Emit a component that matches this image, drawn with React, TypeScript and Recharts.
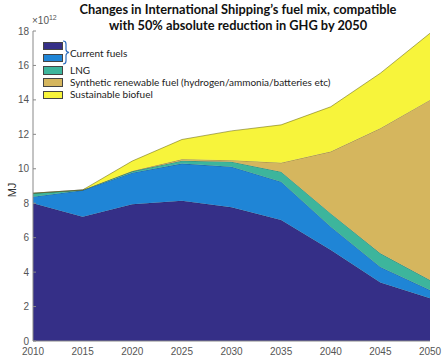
import React from "react";
import { AreaChart, Area, XAxis, YAxis } from "recharts";

const years = [2010, 2015, 2020, 2025, 2030, 2035, 2040, 2045, 2050];
const currentFuelsA = [8.0, 7.22, 7.94, 8.15, 7.76, 7.03, 5.28, 3.4, 2.48];
const currentFuelsB = [0.38, 1.53, 1.83, 2.15, 2.36, 2.22, 1.36, 0.9, 0.48];
const lng = [0.2, 0.02, 0.08, 0.17, 0.29, 0.58, 0.77, 0.79, 0.58];
const synthetic = [0, 0, 0.02, 0.08, 0.09, 0.52, 3.59, 7.26, 10.46];
const biofuel = [0, 0, 0.58, 1.15, 1.7, 2.2, 2.6, 3.2, 3.87];
const yTicks = [0, 2, 4, 6, 8, 10, 12, 14, 16, 18];

const titleLines = [
  "Changes in International Shipping\u2019s fuel mix, compatible",
  "with 50% absolute reduction in GHG by 2050",
];

const colors = {
  a: "#352f87",
  b: "#1f85d6",
  lng: "#3db59c",
  syn: "#d5b65e",
  bio: "#f7f43b",
};

const legendItems = [
  { label: "", color: colors.a },
  { label: "", color: colors.b },
  { label: "LNG", color: colors.lng },
  { label: "Synthetic renewable fuel (hydrogen/ammonia/batteries etc)", color: colors.syn },
  { label: "Sustainable biofuel", color: colors.bio },
];

const data = years.map((y, i) => ({
  year: y,
  a: currentFuelsA[i],
  b: currentFuelsB[i],
  lng: lng[i],
  syn: synthetic[i],
  bio: biofuel[i],
}));

const YTick = (props: any) => {
  const { x, y, payload } = props;
  return (
    <g>
      <text x={x} y={y} dy="0.355em" textAnchor="end" fontSize={10} fill="#555" fontFamily="Liberation Sans, Arial, sans-serif">
        {payload.value}
      </text>
      <line x1={x + 4} x2={x + 7} y1={y} y2={y} stroke="#888" strokeWidth={1} />
    </g>
  );
};

export default function App() {
  const stroke = "#222";
  return (
    <div style={{ position: "absolute", left: 0, top: 0, width: 445, height: 362, background: "#fff", overflow: "hidden" }}>
      <AreaChart width={445} height={362} data={data} margin={{ top: 31, right: 15, bottom: 0, left: 0 }}>
        <XAxis
          dataKey="year"
          type="number"
          domain={[2010, 2050]}
          ticks={years}
          interval={0}
          height={21}
          tickLine={false}
          tickSize={5}
          tickMargin={2}
          axisLine={{ stroke: "#888" }}
          tick={{ fontSize: 10, fill: "#555", fontFamily: "Liberation Sans, Arial, sans-serif" }}
        />
        <YAxis
          type="number"
          domain={[0, 18]}
          ticks={yTicks}
          interval={0}
          width={33}
          tickLine={false}
          tickSize={0}
          tickMargin={4}
          axisLine={{ stroke: "#888" }}
          tick={<YTick />}
        />
        <Area type="linear" dataKey="a" stackId="1" fill={colors.a} fillOpacity={1} stroke={stroke} strokeWidth={0.6} strokeOpacity={0.6} isAnimationActive={false} />
        <Area type="linear" dataKey="b" stackId="1" fill={colors.b} fillOpacity={1} stroke={stroke} strokeWidth={0.6} strokeOpacity={0.6} isAnimationActive={false} />
        <Area type="linear" dataKey="lng" stackId="1" fill={colors.lng} fillOpacity={1} stroke={stroke} strokeWidth={0.6} strokeOpacity={0.6} isAnimationActive={false} />
        <Area type="linear" dataKey="syn" stackId="1" fill={colors.syn} fillOpacity={1} stroke={stroke} strokeWidth={0.6} strokeOpacity={0.6} isAnimationActive={false} />
        <Area type="linear" dataKey="bio" stackId="1" fill={colors.bio} fillOpacity={1} stroke="#6b6a10" strokeWidth={0.7} strokeOpacity={0.8} isAnimationActive={false} />
      </AreaChart>

      {/* title */}
      <div style={{ position: "absolute", left: 0, top: 2, width: 476, textAlign: "center", fontFamily: "Lato, sans-serif", fontWeight: 700, fontSize: 12.8, lineHeight: "15.5px", color: "#111" }}>
        {titleLines.map((t, i) => (
          <div key={i}>{t}</div>
        ))}
      </div>

      {/* exponent */}
      <div style={{ position: "absolute", left: 32, top: 14, fontFamily: "Liberation Sans, Arial, sans-serif", fontSize: 10, color: "#555" }}>
        {"\u00d710"}
        <sup style={{ fontSize: 7, verticalAlign: "4px" }}>12</sup>
      </div>

      {/* y label */}
      <div style={{ position: "absolute", left: 12, top: 190, transform: "translate(-50%,-50%) rotate(-90deg)", fontFamily: "Liberation Sans, Arial, sans-serif", fontSize: 11, color: "#333" }}>
        MJ
      </div>

      {/* legend */}
      {legendItems.map((it, i) => (
        <div key={i} style={{ position: "absolute", left: 43, top: 41.5 + i * 12.3, width: 20, height: 8.5, background: it.color, border: "0.5px solid #444", boxSizing: "border-box" }} />
      ))}
      {legendItems.map((it, i) =>
        it.label ? (
          <div key={"l" + i} style={{ position: "absolute", left: 70, top: 39 + i * 12.3, fontFamily: "Lato, sans-serif", fontSize: 10, lineHeight: "12px", color: "#222", whiteSpace: "nowrap" }}>
            {it.label}
          </div>
        ) : null
      )}
      <svg style={{ position: "absolute", left: 62, top: 40 }} width={12} height={26}>
        <path d="M1 1 Q4 1 4 4 L4 9.5 Q4 12 7 12.5 Q4 13 4 15.5 L4 21 Q4 24 1 24" fill="none" stroke="#2e6fc0" strokeWidth={1.2} />
      </svg>
      <div style={{ position: "absolute", left: 70, top: 46.5, fontFamily: "Lato, sans-serif", fontSize: 10, lineHeight: "12px", color: "#222", whiteSpace: "nowrap" }}>
        Current fuels
      </div>
    </div>
  );
}
